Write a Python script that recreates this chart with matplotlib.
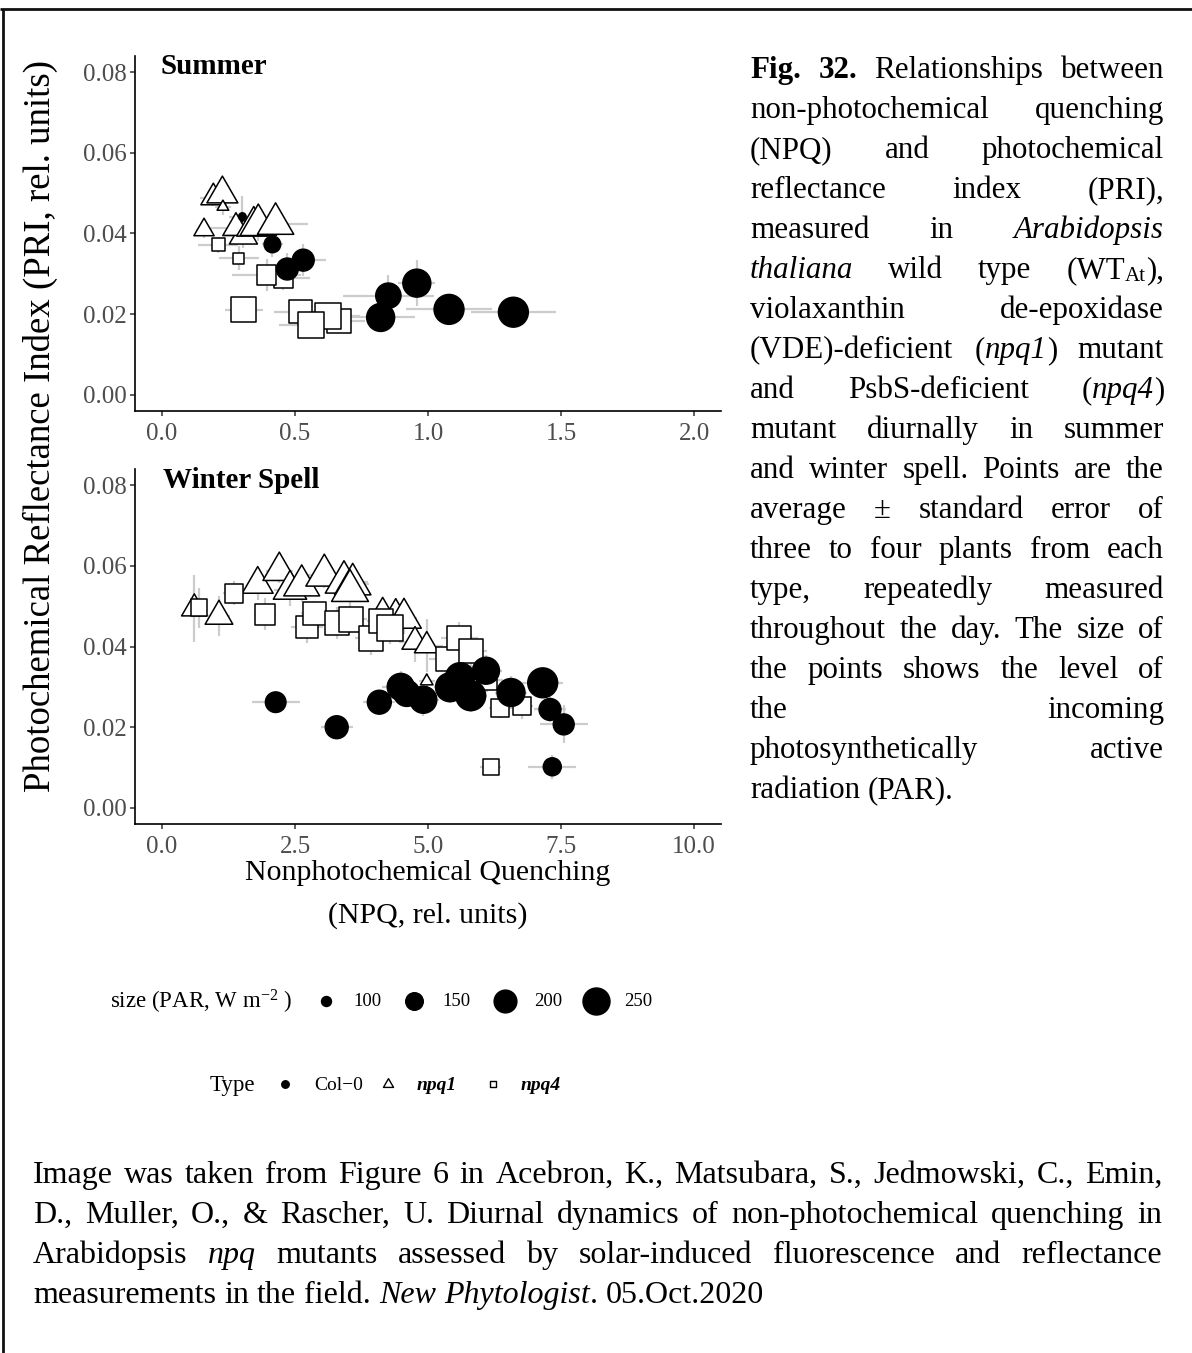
import re
import numpy as np
import matplotlib
matplotlib.use("Agg")
import matplotlib.pyplot as plt
from matplotlib.path import Path

plt.rcParams['font.family'] = ['Liberation Serif', 'DejaVu Serif']
plt.rcParams['mathtext.fontset'] = 'custom'
plt.rcParams['mathtext.rm'] = 'Liberation Serif'
plt.rcParams['mathtext.it'] = 'Liberation Serif:italic'
plt.rcParams['mathtext.bf'] = 'Liberation Serif:bold'

# ------------------------------------------------------------------ data
y_ticks = [0.00, 0.02, 0.04, 0.06, 0.08]
y_tick_labels = ["0.00", "0.02", "0.04", "0.06", "0.08"]
x_ticks_summer = [0.0, 0.5, 1.0, 1.5, 2.0]
x_tick_labels_summer = ["0.0", "0.5", "1.0", "1.5", "2.0"]
x_ticks_winter = [0.0, 2.5, 5.0, 7.5, 10.0]
x_tick_labels_winter = ["0.0", "2.5", "5.0", "7.5", "10.0"]
size_breaks = [100, 150, 200, 250]
type_labels = ["Col\u22120", "npq1", "npq4"]

# Summer - npq1 (triangles)
s_npq1_npq = [0.306, 0.158, 0.193, 0.227, 0.229, 0.278, 0.345, 0.362, 0.427]
s_npq1_pri = [0.0394, 0.0409, 0.0489, 0.0498, 0.0466, 0.0414, 0.0418, 0.0421, 0.0424]
s_npq1_par = [180, 130, 158, 202, 94, 166, 230, 250, 250]
s_npq1_npq_se = [0.08, 0.03, 0.05, 0.04, 0.03, 0.10, 0.08, 0.10, 0.12]
s_npq1_pri_se = [0.003, 0.002, 0.002, 0.002, 0.002, 0.004, 0.003, 0.004, 0.003]

# Summer - npq4 (squares)
s_npq4_npq = [0.212, 0.288, 0.456, 0.394, 0.308, 0.521, 0.665, 0.623, 0.560]
s_npq4_pri = [0.0372, 0.0339, 0.0289, 0.0297, 0.0211, 0.0206, 0.0184, 0.0196, 0.0173]
s_npq4_par = [130, 113, 189, 189, 265, 232, 250, 276, 276]
s_npq4_npq_se = [0.075, 0.075, 0.10, 0.13, 0.07, 0.10, 0.10, 0.12, 0.12]
s_npq4_pri_se = [0.002, 0.003, 0.003, 0.004, 0.002, 0.002, 0.002, 0.002, 0.002]

# Summer - Col-0 (circles)
s_col_npq = [0.302, 0.415, 0.471, 0.531, 0.851, 0.958, 0.822, 1.079, 1.321]
s_col_pri = [0.0442, 0.0373, 0.0312, 0.0334, 0.0246, 0.0277, 0.0192, 0.0212, 0.0205]
s_col_par = [90, 143, 191, 191, 229, 263, 263, 290, 290]
s_col_npq_se = [0.05, 0.04, 0.06, 0.085, 0.17, 0.07, 0.13, 0.16, 0.16]
s_col_pri_se = [0.005, 0.003, 0.004, 0.004, 0.005, 0.0057, 0.003, 0.002, 0.002]

# Winter spell - npq1 (triangles)
w_npq1_npq = [0.607, 1.071, 1.799, 2.205, 2.406, 2.626, 3.051, 3.421, 3.585, 3.534,
              4.148, 4.393, 4.549, 4.756, 4.976, 4.976]
w_npq1_pri = [0.0494, 0.0475, 0.0554, 0.0587, 0.0541, 0.0551, 0.0576, 0.0559, 0.0554, 0.0538,
              0.0490, 0.0489, 0.0470, 0.0412, 0.0402, 0.0314]
w_npq1_par = [161, 177, 201, 217, 222, 245, 255, 260, 250, 255, 141, 132, 233, 166, 155, 97]
w_npq1_npq_se = [0.15, 0.2, 0.2, 0.25, 0.3, 0.25, 0.3, 0.45, 0.3, 0.3, 0.2, 0.2, 0.25, 0.3, 0.3, 0.15]
w_npq1_pri_se = [0.0082, 0.005, 0.004, 0.003, 0.004, 0.004, 0.003, 0.003, 0.004, 0.004,
                 0.003, 0.003, 0.004, 0.005, 0.0066, 0.002]

# Winter spell - npq4 (squares)
w_npq4_npq = [0.695, 1.353, 1.936, 2.731, 2.863, 3.284, 3.553, 3.929, 4.111, 4.286,
              5.370, 5.588, 5.808, 6.103, 6.353, 6.773, 6.179]
w_npq4_pri = [0.0496, 0.0532, 0.0480, 0.0449, 0.0482, 0.0459, 0.0467, 0.0420, 0.0464, 0.0445,
              0.0369, 0.0420, 0.0390, 0.0317, 0.0248, 0.0253, 0.0102]
w_npq4_par = [160, 185, 206, 222, 230, 250, 265, 265, 250, 280, 250, 250, 250, 200, 171, 171, 151]
w_npq4_npq_se = [0.15, 0.2, 0.2, 0.3, 0.25, 0.3, 0.3, 0.3, 0.25, 0.3, 0.35, 0.35, 0.3, 0.3, 0.2, 0.2, 0.2]
w_npq4_pri_se = [0.005, 0.003, 0.004, 0.004, 0.003, 0.004, 0.003, 0.004, 0.003, 0.004,
                 0.005, 0.004, 0.004, 0.003, 0.0025, 0.0033, 0.001]

# Winter spell - Col-0 (circles)
w_col_npq = [2.137, 3.284, 4.085, 4.487, 4.600, 4.912, 5.414, 5.602, 5.803, 6.090,
             6.560, 7.156, 7.293, 7.551, 7.336]
w_col_pri = [0.0262, 0.0200, 0.0262, 0.0300, 0.0284, 0.0268, 0.0299, 0.0324, 0.0278, 0.0340,
             0.0286, 0.0310, 0.0244, 0.0207, 0.0102]
w_col_par = [178, 202, 213, 250, 240, 250, 276, 276, 290, 250, 263, 290, 191, 181, 154]
w_col_npq_se = [0.45, 0.3, 0.3, 0.35, 0.3, 0.3, 0.3, 0.35, 0.3, 0.3, 0.3, 0.38, 0.3, 0.45, 0.45]
w_col_pri_se = [0.002, 0.002, 0.003, 0.004, 0.003, 0.004, 0.004, 0.004, 0.004, 0.004,
                0.004, 0.0037, 0.003, 0.0047, 0.003]

caption_right = [
    "<b>Fig. 32.</b> Relationships between",
    "non-photochemical quenching",
    "(NPQ) and photochemical",
    "reflectance index (PRI),",
    "measured in <i>Arabidopsis</i>",
    "<i>thaliana</i> wild type (WT<s>At</s>),",
    "violaxanthin de-epoxidase",
    "(VDE)-deficient (<i>npq1</i>) mutant",
    "and PsbS-deficient (<i>npq4</i>)",
    "mutant diurnally in summer",
    "and winter spell. Points are the",
    "average \u00b1 standard error of",
    "three to four plants from each",
    "type, repeatedly measured",
    "throughout the day. The size of",
    "the points shows the level of",
    "the incoming",
    "photosynthetically active",
    "radiation (PAR).",
]
caption_bottom = [
    "Image was taken from Figure 6 in Acebron, K., Matsubara, S., Jedmowski, C., Emin,",
    "D., Muller, O., & Rascher, U. Diurnal dynamics of non-photochemical quenching in",
    "Arabidopsis <i>npq</i> mutants assessed by solar-induced fluorescence and reflectance",
    "measurements in the field. <i>New Phytologist</i>. 05.Oct.2020",
]

# ------------------------------------------------------------------ figure
W, H, DPI = 1192, 1353, 100
fig = plt.figure(figsize=(W / DPI, H / DPI), dpi=DPI)
fig.patch.set_facecolor("white")
PT = 72.0 / DPI


def px_axes(left, top, right, bottom):
    return fig.add_axes([left / W, 1 - bottom / H, (right - left) / W, (bottom - top) / H])


def diam_px(par):
    par = np.asarray(par, dtype=float)
    return np.sqrt(np.clip(4.2 * par - 320.0, 9.0, None))


TRI = Path([(0, 1), (-0.866, -0.5), (0.866, -0.5), (0, 1)],
           [Path.MOVETO, Path.LINETO, Path.LINETO, Path.CLOSEPOLY])
ERR_C = "#CCCCCC"


def draw_panel(ax, data, xlim, xticks, xlabels):
    for (x, y, par, xe, ye, kind) in data:
        ax.errorbar(x, y, xerr=xe, yerr=ye, fmt="none", ecolor=ERR_C,
                    elinewidth=1.6, capsize=0, zorder=1)
    for (x, y, par, xe, ye, kind) in data:
        d = diam_px(par) * PT
        if kind == "tri":
            ax.scatter(x, y, s=(1.555 * d) ** 2, marker=TRI, facecolor="white",
                       edgecolor="black", linewidths=1.1, zorder=2)
        elif kind == "sq":
            ax.scatter(x, y, s=(0.886 * d) ** 2, marker="s", facecolor="white",
                       edgecolor="black", linewidths=1.1, zorder=3)
        else:
            ax.scatter(x, y, s=d ** 2, marker="o", facecolor="black",
                       edgecolor="black", linewidths=1.0, zorder=4)
    ax.set_xlim(*xlim)
    ax.set_ylim(-0.004, 0.084)
    ax.set_xticks(xticks, labels=xlabels)
    ax.set_yticks(y_ticks, labels=y_tick_labels)
    for s in ("top", "right"):
        ax.spines[s].set_visible(False)
    for s in ("left", "bottom"):
        ax.spines[s].set_linewidth(1.2)
        ax.spines[s].set_color("black")
    ax.tick_params(length=3.5, width=1.1, color="#333333", labelcolor="#4D4D4D",
                   labelsize=18, pad=3)
    ax.tick_params(axis="x", pad=5)
    ax.set_facecolor("none")


ax1 = px_axes(135.4, 55.9, 720.6, 411.1)
draw_panel(ax1, [
    (s_npq1_npq, s_npq1_pri, s_npq1_par, s_npq1_npq_se, s_npq1_pri_se, "tri"),
    (s_npq4_npq, s_npq4_pri, s_npq4_par, s_npq4_npq_se, s_npq4_pri_se, "sq"),
    (s_col_npq, s_col_pri, s_col_par, s_col_npq_se, s_col_pri_se, "circ"),
], (-0.1, 2.1), x_ticks_summer, x_tick_labels_summer)

ax2 = px_axes(135.4, 468.9, 720.6, 824.1)
draw_panel(ax2, [
    (w_npq1_npq, w_npq1_pri, w_npq1_par, w_npq1_npq_se, w_npq1_pri_se, "tri"),
    (w_npq4_npq, w_npq4_pri, w_npq4_par, w_npq4_npq_se, w_npq4_pri_se, "sq"),
    (w_col_npq, w_col_pri, w_col_par, w_col_npq_se, w_col_pri_se, "circ"),
], (-0.5, 10.5), x_ticks_winter, x_tick_labels_winter)

# overlay in pixel coordinates for annotation, legend and captions
lax = fig.add_axes([0, 0, 1, 1], zorder=10)
lax.set_xlim(0, W)
lax.set_ylim(H, 0)
lax.axis("off")

# frame lines
lax.plot([0, W], [8.5, 8.5], color="#111111", lw=2.0, solid_capstyle="butt")
lax.plot([3, 3], [8.5, H], color="#111111", lw=2.0, solid_capstyle="butt")

lax.text(160, 67, "Summer", fontsize=21, fontweight="bold", ha="left", va="center")
lax.text(163, 480, "Winter Spell", fontsize=21, fontweight="bold", ha="left", va="center")
lax.text(40, 426, "Photochemical Reflectance Index (PRI, rel. units)", fontsize=26.5,
         rotation=90, ha="center", va="center")
lax.text(428, 873, "Nonphotochemical Quenching", fontsize=21.5, ha="center", va="center")
lax.text(428, 916, "(NPQ, rel. units)", fontsize=21.5, ha="center", va="center")

# size legend
lax.text(110, 1002, r"size (PAR, W m$^{-2}$ )", fontsize=16.5, ha="left", va="center")
key_x = [326, 414, 505, 596]
lab_x = [367, 456, 548, 638]
for kx, lx, b in zip(key_x, lab_x, size_breaks):
    lax.scatter([kx], [1001], s=(diam_px(b) * PT) ** 2, marker="o", color="black", clip_on=False)
    lax.text(lx, 1002, str(b), fontsize=13.5, ha="center", va="center")

# type legend
small = 7.5 * PT
lax.text(232, 1085, "Type", fontsize=16.5, ha="center", va="center")
lax.scatter([285], [1084], s=small ** 2, marker="o", color="black", clip_on=False)
lax.text(339, 1085, type_labels[0], fontsize=14, ha="center", va="center")
lax.scatter([388], [1084], s=(1.555 * small) ** 2, marker=TRI, facecolor="white",
            edgecolor="black", linewidths=1.0, clip_on=False)
lax.text(437, 1085, type_labels[1], fontsize=14, ha="center", va="center",
         fontweight="bold", fontstyle="italic")
lax.scatter([493], [1084], s=(0.886 * small) ** 2, marker="s", facecolor="white",
            edgecolor="black", linewidths=1.0, clip_on=False)
lax.text(541, 1085, type_labels[2], fontsize=14, ha="center", va="center",
         fontweight="bold", fontstyle="italic")

# ------------------------------------------------------------------ justified captions
fig.canvas.draw()
renderer = fig.canvas.get_renderer()


def parse(line):
    parts = re.split(r"(</?[a-z]>)", line)
    style = "n"
    words = [[]]
    for p in parts:
        if p == "":
            continue
        m = re.fullmatch(r"<([a-z])>", p)
        if m:
            style = m.group(1)
            continue
        if re.fullmatch(r"</[a-z]>", p):
            style = "n"
            continue
        chunks = p.split(" ")
        for k, c in enumerate(chunks):
            if k > 0:
                words.append([])
            if c:
                words[-1].append((c, style))
    return [w for w in words if w]


def seg_kw(style, fs):
    kw = dict(fontsize=fs)
    if style == "b":
        kw["fontweight"] = "bold"
    elif style == "i":
        kw["fontstyle"] = "italic"
    elif style == "s":
        kw["fontsize"] = fs * 0.68
    return kw


def seg_width(text, style, fs):
    t = lax.text(0, 0, text, **seg_kw(style, fs))
    w = t.get_window_extent(renderer).width
    t.remove()
    return w


def justify(lines, left, right, y0, dy, fs):
    target = right - left
    # shrink if any justified line would not fit with normal spacing
    for i, line in enumerate(lines[:-1]):
        words = parse(line)
        total = sum(seg_width(t, s, fs) for w in words for (t, s) in w)
        need = total + (len(words) - 1) * 0.2 * fs / PT
        if need > target:
            fs *= target / need
    space = seg_width("a a", "n", fs) - 2 * seg_width("a", "n", fs)
    for i, line in enumerate(lines):
        words = parse(line)
        widths = [[seg_width(t, s, fs) for (t, s) in w] for w in words]
        total = sum(sum(w) for w in widths)
        n = len(words)
        last = (i == len(lines) - 1)
        gap = space if (last or n == 1) else (target - total) / (n - 1)
        x = left
        yb = y0 + i * dy
        for w, ws in zip(words, widths):
            for (t, s), sw in zip(w, ws):
                off = 3 if s == "s" else 0
                lax.text(x, yb + off, t, ha="left", va="baseline", **seg_kw(s, fs))
                x += sw
            x += gap


justify(caption_right, 750, 1164, 68.3 + 10, 40.0, 22.3)
justify(caption_bottom, 33, 1162, 1173 + 10, 40.0, 23.0)

fig.savefig("out.png", dpi=DPI, facecolor="white")
